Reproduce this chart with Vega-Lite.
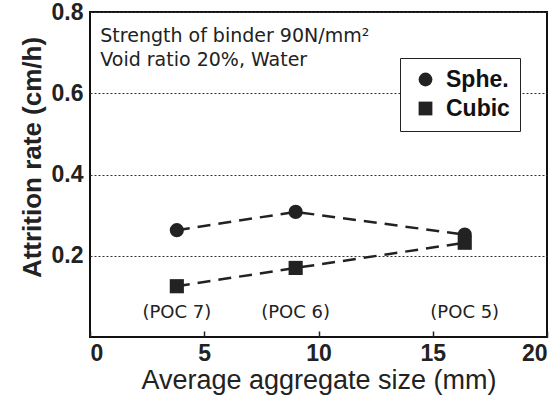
{
  "$schema": "https://vega.github.io/schema/vega-lite/v6.json",
  "autosize": "none",
  "padding": {"left": 90, "top": 12, "right": 10, "bottom": 62},
  "width": 457,
  "height": 325,
  "background": "white",
  "config": {
    "view": {"stroke": "#111", "strokeWidth": 2},
    "font": "Liberation Sans"
  },
  "datasets": {
    "pts": [
      {"size": 3.8, "rate": 0.263, "shape": "Sphe."},
      {"size": 9.0, "rate": 0.308, "shape": "Sphe."},
      {"size": 16.4, "rate": 0.252, "shape": "Sphe."},
      {"size": 3.8, "rate": 0.125, "shape": "Cubic"},
      {"size": 9.0, "rate": 0.17, "shape": "Cubic"},
      {"size": 16.4, "rate": 0.232, "shape": "Cubic"}
    ],
    "poc": [
      {"size": 3.8, "rate": 0.06, "label": "(POC 7)"},
      {"size": 9.0, "rate": 0.06, "label": "(POC 6)"},
      {"size": 16.4, "rate": 0.06, "label": "(POC 5)"}
    ],
    "notes": [
      {"size": 0.45, "rate": 0.742, "label": "Strength of binder 90N/mm²"},
      {"size": 0.45, "rate": 0.682, "label": "Void ratio 20%,  Water"}
    ]
  },
  "layer": [
    {
      "data": {"name": "pts"},
      "mark": {"type": "line", "strokeDash": [13, 8], "strokeWidth": 2.5, "color": "#222"},
      "encoding": {
        "x": {
          "field": "size", "type": "quantitative",
          "scale": {"domain": [0, 20], "nice": false},
          "axis": {
            "values": [0, 5, 10, 15, 20],
            "title": "Average aggregate size  (mm)",
            "titleFontSize": 27, "titleFontWeight": "normal", "titleColor": "#222",
            "titlePadding": 2,
            "labelFontSize": 23, "labelFontWeight": "bold", "labelColor": "#222",
            "labelPadding": 11,
            "domain": false, "grid": false,
            "tickSize": -6, "tickColor": "#222", "tickWidth": 1.5
          }
        },
        "y": {
          "field": "rate", "type": "quantitative",
          "scale": {"domain": [0, 0.8], "nice": false},
          "axis": {
            "values": [0.2, 0.4, 0.6, 0.8],
            "format": ".1f",
            "title": "Attrition rate (cm/h)",
            "titleFontSize": 26, "titleFontWeight": "bold", "titleColor": "#222",
            "titlePadding": 6, "titleY": 145,
            "labelFontSize": 23, "labelFontWeight": "bold", "labelColor": "#222",
            "labelPadding": 7,
            "domain": false, "ticks": false,
            "grid": true, "gridDash": [2, 2], "gridColor": "#333", "gridWidth": 1.2
          }
        },
        "detail": {"field": "shape"}
      }
    },
    {
      "data": {"name": "pts"},
      "mark": {"type": "point", "filled": true, "opacity": 1, "size": 200},
      "encoding": {
        "x": {"field": "size", "type": "quantitative"},
        "y": {"field": "rate", "type": "quantitative"},
        "shape": {
          "field": "shape", "type": "nominal",
          "scale": {"domain": ["Sphe.", "Cubic"], "range": ["circle", "square"]},
          "legend": {
            "title": null,
            "orient": "none", "legendX": 310, "legendY": 46,
            "strokeColor": "#222", "fillColor": "white",
            "padding": 10,
            "labelFontSize": 23, "labelFontWeight": "bold", "labelColor": "#111",
            "symbolSize": 190, "symbolFillColor": "#222", "symbolStrokeColor": "#222",
            "rowPadding": 5, "labelOffset": 9, "symbolOffset": 4,
            "labelLimit": 200
          }
        },
        "color": {"value": "#222"}
      }
    },
    {
      "data": {"name": "poc"},
      "mark": {"type": "text", "fontSize": 18, "color": "#222", "font": "DejaVu Sans"},
      "encoding": {
        "x": {"field": "size", "type": "quantitative"},
        "y": {"field": "rate", "type": "quantitative"},
        "text": {"field": "label"}
      }
    },
    {
      "data": {"name": "notes"},
      "mark": {"type": "text", "fontSize": 19, "color": "#222", "align": "left", "font": "DejaVu Sans"},
      "encoding": {
        "x": {"field": "size", "type": "quantitative"},
        "y": {"field": "rate", "type": "quantitative"},
        "text": {"field": "label"}
      }
    }
  ]
}
